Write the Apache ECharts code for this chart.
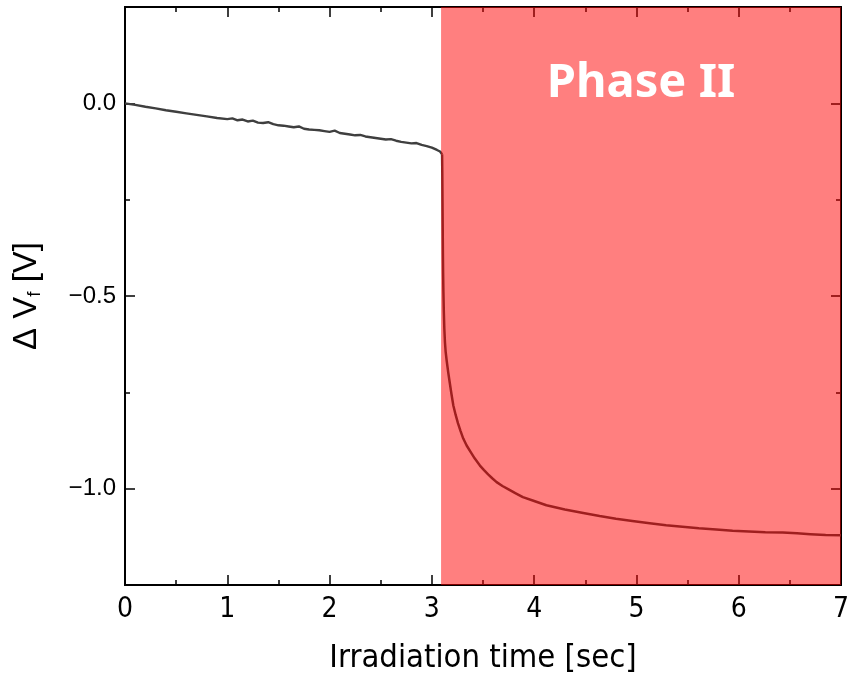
<!DOCTYPE html>
<html>
<head>
<meta charset="utf-8">
<script src="https://cdn.jsdelivr.net/npm/echarts@6/dist/echarts.min.js"></script>
<style>
  html, body { margin: 0; padding: 0; background: #fff; }
  #chart { width: 849px; height: 680px; }
</style>
</head>
<body>
<div id="chart"></div>
<script>
// time [sec] and ΔVf [V]
var timePhase1 = [0, 0.1, 0.2, 0.3, 0.4, 0.5, 0.6, 0.7, 0.8, 0.9, 1.0, 1.05, 1.1, 1.15, 1.2, 1.25, 1.3, 1.35, 1.4, 1.45,
    1.5, 1.55, 1.6, 1.65, 1.7, 1.75, 1.8, 1.85, 1.9, 1.95, 2.0, 2.05, 2.1, 2.15, 2.2, 2.25, 2.3, 2.35, 2.4, 2.45,
    2.5, 2.55, 2.6, 2.65, 2.7, 2.75, 2.8, 2.85, 2.9, 2.95, 3.0, 3.05, 3.08, 3.10];
var vfPhase1 = [0, -0.004, -0.009, -0.013, -0.018, -0.022, -0.026, -0.030, -0.034, -0.038, -0.041, -0.039, -0.044, -0.042, -0.047, -0.045, -0.050, -0.051, -0.049, -0.054,
    -0.057, -0.058, -0.060, -0.062, -0.060, -0.066, -0.068, -0.069, -0.070, -0.072, -0.074, -0.071, -0.077, -0.079, -0.081, -0.083, -0.082, -0.086, -0.088, -0.090,
    -0.092, -0.094, -0.093, -0.097, -0.100, -0.102, -0.104, -0.103, -0.108, -0.111, -0.115, -0.121, -0.125, -0.132];
var timePhase2 = [3.100, 3.102, 3.104, 3.106, 3.108, 3.110, 3.113, 3.117, 3.122, 3.128, 3.135, 3.145, 3.160, 3.175, 3.192,
    3.210, 3.232, 3.255, 3.280, 3.307, 3.340, 3.380, 3.420, 3.470, 3.510, 3.550, 3.590, 3.633, 3.690, 3.750, 3.820,
    3.890, 4.000, 4.120, 4.300, 4.480, 4.640, 4.800, 4.960, 5.130, 5.290, 5.450, 5.610, 5.780, 5.940, 6.100, 6.260,
    6.430, 6.570, 6.700, 6.850, 7.000];
var vfPhase2 = [-0.132, -0.180, -0.250, -0.320, -0.390, -0.440, -0.490, -0.540, -0.585, -0.620, -0.645, -0.668, -0.698, -0.725, -0.755,
    -0.784, -0.808, -0.830, -0.850, -0.870, -0.888, -0.905, -0.922, -0.940, -0.952, -0.963, -0.973, -0.983, -0.993, -1.002, -1.012,
    -1.022, -1.032, -1.043, -1.054, -1.063, -1.071, -1.078, -1.084, -1.090, -1.095, -1.099, -1.103, -1.106, -1.109, -1.111, -1.113,
    -1.114, -1.116, -1.118, -1.120, -1.121];
var phaseStart = 3.09;
var phaseEnd = 7;
var phaseLabel = 'Phase II';
var yMajorTicks = [-1.0, -0.5, 0.0];

var points1 = timePhase1.map(function (t, i) { return [t, vfPhase1[i]]; });
var points2 = timePhase2.map(function (t, i) { return [t, vfPhase2[i]]; });

var axisLine = { show: true, onZero: false, lineStyle: { color: '#000', width: 2 } };
var tickStyle = { color: '#000', width: 1.5 };
var narrowFont = 'Liberation Sans Narrow, DejaVu Sans Condensed, sans-serif';

function fmtY(v) {
    if (Math.abs(v * 2 - Math.round(v * 2)) > 1e-6) return '';
    return v.toFixed(1).replace('-', '\u2212');
}

function yAxisDef(pos, major, withLabels) {
    return {
        type: 'value', position: pos, min: -1.25, max: 0.25, interval: 0.25,
        axisLine: axisLine,
        axisTick: major
            ? { show: true, inside: true, length: 10, lineStyle: tickStyle, customValues: yMajorTicks }
            : { show: true, inside: true, length: 5, lineStyle: tickStyle },
        axisLabel: withLabels
            ? { show: true, formatter: fmtY, color: '#000', fontSize: 24, fontFamily: 'Liberation Sans, Arial', margin: 9 }
            : { show: false },
        splitLine: { show: false },
        name: withLabels ? 'Δ V{sub|f} [V]' : '',
        nameLocation: 'middle',
        nameRotate: 90,
        nameGap: 81,
        nameTextStyle: {
            color: '#000', fontSize: 33, fontFamily: 'Liberation Sans, Arial',
            rich: { sub: { fontSize: 19, verticalAlign: 'bottom', padding: [15, 0, 0, 0], color: '#000', fontFamily: 'Liberation Sans, Arial' } }
        }
    };
}

function xAxisDef(pos, withLabels) {
    return {
        type: 'value', position: pos, min: 0, max: 7, interval: 1,
        axisLine: axisLine,
        axisTick: { show: true, inside: true, length: 10, lineStyle: tickStyle },
        minorTick: { show: true, splitNumber: 2, length: 5, lineStyle: tickStyle },
        axisLabel: withLabels
            ? { show: true, color: '#000', fontSize: 28, fontFamily: narrowFont, margin: 11 }
            : { show: false },
        splitLine: { show: false },
        minorSplitLine: { show: false },
        name: withLabels ? 'Irradiation time [sec]' : '',
        nameLocation: 'middle',
        nameGap: 57,
        nameTextStyle: { color: '#000', fontSize: 32.5, fontFamily: narrowFont }
    };
}

var chart = echarts.init(document.getElementById('chart'), null, { renderer: 'canvas' });
chart.setOption({
    animation: false,
    backgroundColor: '#fff',
    grid: { left: 125, right: 8, top: 7, bottom: 95, containLabel: false, outerBoundsMode: 'none' },
    xAxis: [xAxisDef('bottom', true), xAxisDef('top', false)],
    yAxis: [yAxisDef('left', false, true), yAxisDef('left', true, false), yAxisDef('right', false, false), yAxisDef('right', true, false)],
    series: [
        {
            type: 'line',
            data: points1,
            xAxisIndex: 0, yAxisIndex: 0,
            symbol: 'none',
            lineStyle: { color: '#3f3f3f', width: 2.4 },
            z: 3
        },
        {
            type: 'line',
            data: points2,
            xAxisIndex: 0, yAxisIndex: 0,
            symbol: 'none',
            lineStyle: { color: '#3f3f3f', width: 2.5, join: 'round' },
            z: 3,
            markArea: {
                silent: true,
                z: 20,
                itemStyle: { color: 'rgba(255,0,0,0.5)' },
                label: {
                    show: true, position: 'insideTop', distance: 53,
                    color: '#fff', fontSize: 47, fontWeight: 'bold', fontFamily: 'Noto Sans, Liberation Sans, sans-serif',
                    lineHeight: 48
                },
                data: [[{ name: phaseLabel, xAxis: phaseStart }, { xAxis: phaseEnd }]]
            }
        }
    ]
});
</script>
</body>
</html>
